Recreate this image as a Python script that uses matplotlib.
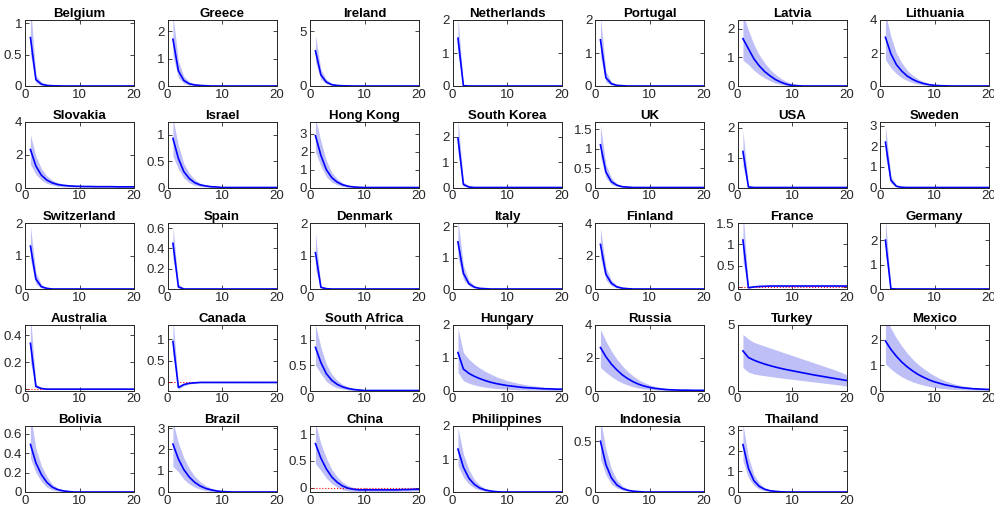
import numpy as np
import matplotlib
matplotlib.use("Agg")
import matplotlib.pyplot as plt

plt.rcParams['font.family'] = ['Liberation Sans', 'DejaVu Sans']

horizon = np.arange(1, 21)

countries = [
    "Belgium", "Greece", "Ireland", "Netherlands", "Portugal", "Latvia", "Lithuania",
    "Slovakia", "Israel", "Hong Kong", "South Korea", "UK", "USA", "Sweden",
    "Switzerland", "Spain", "Denmark", "Italy", "Finland", "France", "Germany",
    "Australia", "Canada", "South Africa", "Hungary", "Russia", "Turkey", "Mexico",
    "Bolivia", "Brazil", "China", "Philippines", "Indonesia", "Thailand",
]

# point estimate of the impulse response, horizons 1..20
irf_mean = {
    "Belgium": [0.77, 0.10, 0.03, 0.01, 0.004, 0.002, 0, 0, 0, 0, 0, 0, 0, 0, 0, 0, 0, 0, 0, 0],
    "Greece": [1.7, 0.55, 0.2, 0.08, 0.04, 0.02, 0.01, 0, 0, 0, 0, 0, 0, 0, 0, 0, 0, 0, 0, 0],
    "Ireland": [3.2, 1.0, 0.35, 0.12, 0.05, 0.02, 0.01, 0, 0, 0, 0, 0, 0, 0, 0, 0, 0, 0, 0, 0],
    "Netherlands": [1.45, 0.01, 0, 0, 0, 0, 0, 0, 0, 0, 0, 0, 0, 0, 0, 0, 0, 0, 0, 0],
    "Portugal": [1.4, 0.25, 0.07, 0.02, 0.01, 0, 0, 0, 0, 0, 0, 0, 0, 0, 0, 0, 0, 0, 0, 0],
    "Latvia": [1.65, 1.3, 0.95, 0.7, 0.5, 0.35, 0.22, 0.13, 0.06, 0.02, 0.01, 0, 0, 0, 0, 0, 0, 0, 0, 0],
    "Lithuania": [2.95, 1.95, 1.3, 0.9, 0.6, 0.4, 0.25, 0.15, 0.08, 0.04, 0.02, 0.01, 0, 0, 0, 0, 0, 0, 0, 0],
    "Slovakia": [2.3, 1.3, 0.75, 0.45, 0.28, 0.18, 0.13, 0.1, 0.08, 0.07, 0.06, 0.06, 0.05, 0.05, 0.05, 0.05, 0.04, 0.04, 0.04, 0.04],
    "Israel": [0.93, 0.55, 0.3, 0.17, 0.09, 0.05, 0.03, 0.015, 0.01, 0, 0, 0, 0, 0, 0, 0, 0, 0, 0, 0],
    "Hong Kong": [2.9, 1.8, 1.0, 0.55, 0.3, 0.15, 0.07, 0.03, 0.01, 0, 0, 0, 0, 0, 0, 0, 0, 0, 0, 0],
    "South Korea": [1.95, 0.12, 0.02, 0, 0, 0, 0, 0, 0, 0, 0, 0, 0, 0, 0, 0, 0, 0, 0, 0],
    "UK": [1.1, 0.4, 0.15, 0.06, 0.02, 0.01, 0, 0, 0, 0, 0, 0, 0, 0, 0, 0, 0, 0, 0, 0],
    "USA": [1.2, 0.02, 0, 0, 0, 0, 0, 0, 0, 0, 0, 0, 0, 0, 0, 0, 0, 0, 0, 0],
    "Sweden": [2.2, 0.35, 0.06, 0.01, 0, 0, 0, 0, 0, 0, 0, 0, 0, 0, 0, 0, 0, 0, 0, 0],
    "Switzerland": [1.3, 0.3, 0.07, 0.02, 0, 0, 0, 0, 0, 0, 0, 0, 0, 0, 0, 0, 0, 0, 0, 0],
    "Spain": [0.45, 0.02, 0, 0, 0, 0, 0, 0, 0, 0, 0, 0, 0, 0, 0, 0, 0, 0, 0, 0],
    "Denmark": [1.1, 0.05, 0.01, 0, 0, 0, 0, 0, 0, 0, 0, 0, 0, 0, 0, 0, 0, 0, 0, 0],
    "Italy": [1.5, 0.5, 0.17, 0.06, 0.02, 0.01, 0, 0, 0, 0, 0, 0, 0, 0, 0, 0, 0, 0, 0, 0],
    "Finland": [2.7, 0.9, 0.35, 0.13, 0.05, 0.02, 0, 0, 0, 0, 0, 0, 0, 0, 0, 0, 0, 0, 0, 0],
    "France": [1.1, -0.02, 0.0, 0.01, 0.015, 0.02, 0.02, 0.02, 0.02, 0.02, 0.02, 0.02, 0.02, 0.02, 0.02, 0.02, 0.02, 0.02, 0.02, 0.02],
    "Germany": [2.0, 0.01, 0, 0, 0, 0, 0, 0, 0, 0, 0, 0, 0, 0, 0, 0, 0, 0, 0, 0],
    "Australia": [0.34, 0.02, 0.005, 0, 0, 0, 0, 0, 0, 0, 0, 0, 0, 0, 0, 0, 0, 0, 0, 0],
    "Canada": [0.95, -0.13, -0.06, -0.03, -0.02, -0.01, -0.01, -0.01, -0.01, -0.01, -0.01, -0.01, -0.01, -0.01, -0.01, -0.01, -0.01, -0.01, -0.01, -0.01],
    "South Africa": [0.85, 0.55, 0.33, 0.2, 0.12, 0.07, 0.04, 0.02, 0.01, 0, 0, 0, 0, 0, 0, 0, 0, 0, 0, 0],
    "Hungary": [1.15, 0.65, 0.52, 0.43, 0.36, 0.3, 0.25, 0.21, 0.18, 0.15, 0.13, 0.11, 0.09, 0.08, 0.07, 0.06, 0.05, 0.05, 0.04, 0.04],
    "Russia": [2.6, 2.05, 1.6, 1.25, 0.95, 0.72, 0.53, 0.38, 0.27, 0.19, 0.13, 0.09, 0.06, 0.04, 0.03, 0.02, 0.02, 0.01, 0.01, 0.01],
    "Turkey": [3.0, 2.5, 2.3, 2.14, 2.0, 1.88, 1.77, 1.67, 1.58, 1.5, 1.42, 1.34, 1.26, 1.18, 1.11, 1.04, 0.97, 0.9, 0.83, 0.76],
    "Mexico": [1.95, 1.62, 1.35, 1.12, 0.93, 0.77, 0.63, 0.52, 0.42, 0.34, 0.28, 0.22, 0.18, 0.14, 0.11, 0.09, 0.07, 0.06, 0.05, 0.04],
    "Bolivia": [0.49, 0.3, 0.18, 0.1, 0.05, 0.025, 0.012, 0.005, 0, 0, 0, 0, 0, 0, 0, 0, 0, 0, 0, 0],
    "Brazil": [2.25, 1.55, 1.05, 0.7, 0.45, 0.28, 0.17, 0.1, 0.05, 0.02, 0.01, 0, 0, 0, 0, 0, 0, 0, 0, 0],
    "China": [0.82, 0.55, 0.35, 0.2, 0.1, 0.03, -0.01, -0.03, -0.04, -0.04, -0.04, -0.04, -0.04, -0.04, -0.04, -0.04, -0.035, -0.035, -0.03, -0.03],
    "Philippines": [1.3, 0.75, 0.42, 0.23, 0.12, 0.06, 0.03, 0.01, 0, 0, 0, 0, 0, 0, 0, 0, 0, 0, 0, 0],
    "Indonesia": [0.5, 0.27, 0.14, 0.07, 0.035, 0.017, 0.008, 0.004, 0, 0, 0, 0, 0, 0, 0, 0, 0, 0, 0, 0],
    "Thailand": [2.3, 1.15, 0.55, 0.27, 0.13, 0.06, 0.03, 0.01, 0, 0, 0, 0, 0, 0, 0, 0, 0, 0, 0, 0],
}

# lower confidence band
irf_lo = {
    "Belgium": [0.5, 0.05, 0.01, 0, 0, 0, 0, 0, 0, 0, 0, 0, 0, 0, 0, 0, 0, 0, 0, 0],
    "Greece": [1.1, 0.3, 0.1, 0.03, 0.01, 0, 0, 0, 0, 0, 0, 0, 0, 0, 0, 0, 0, 0, 0, 0],
    "Ireland": [2.2, 0.6, 0.2, 0.06, 0.02, 0, 0, 0, 0, 0, 0, 0, 0, 0, 0, 0, 0, 0, 0, 0],
    "Netherlands": [1.0, 0, 0, 0, 0, 0, 0, 0, 0, 0, 0, 0, 0, 0, 0, 0, 0, 0, 0, 0],
    "Portugal": [0.9, 0.12, 0.03, 0.01, 0, 0, 0, 0, 0, 0, 0, 0, 0, 0, 0, 0, 0, 0, 0, 0],
    "Latvia": [0.9, 0.75, 0.55, 0.4, 0.28, 0.18, 0.1, 0.05, 0.02, 0.01, 0, 0, 0, 0, 0, 0, 0, 0, 0, 0],
    "Lithuania": [1.6, 1.1, 0.75, 0.5, 0.33, 0.2, 0.12, 0.06, 0.03, 0.01, 0, 0, 0, 0, 0, 0, 0, 0, 0, 0],
    "Slovakia": [1.4, 0.8, 0.45, 0.25, 0.15, 0.08, 0.05, 0.03, 0.02, 0.02, 0.01, 0.01, 0.01, 0.01, 0.01, 0.01, 0.01, 0.01, 0.01, 0.01],
    "Israel": [0.6, 0.35, 0.18, 0.09, 0.04, 0.02, 0.01, 0, 0, 0, 0, 0, 0, 0, 0, 0, 0, 0, 0, 0],
    "Hong Kong": [2.0, 1.2, 0.6, 0.3, 0.15, 0.06, 0.02, 0, 0, 0, 0, 0, 0, 0, 0, 0, 0, 0, 0, 0],
    "South Korea": [1.4, 0.05, 0, 0, 0, 0, 0, 0, 0, 0, 0, 0, 0, 0, 0, 0, 0, 0, 0, 0],
    "UK": [0.8, 0.25, 0.08, 0.03, 0.01, 0, 0, 0, 0, 0, 0, 0, 0, 0, 0, 0, 0, 0, 0, 0],
    "USA": [0.7, 0, 0, 0, 0, 0, 0, 0, 0, 0, 0, 0, 0, 0, 0, 0, 0, 0, 0, 0],
    "Sweden": [1.5, 0.2, 0.03, 0, 0, 0, 0, 0, 0, 0, 0, 0, 0, 0, 0, 0, 0, 0, 0, 0],
    "Switzerland": [0.9, 0.15, 0.03, 0, 0, 0, 0, 0, 0, 0, 0, 0, 0, 0, 0, 0, 0, 0, 0, 0],
    "Spain": [0.3, 0.01, 0, 0, 0, 0, 0, 0, 0, 0, 0, 0, 0, 0, 0, 0, 0, 0, 0, 0],
    "Denmark": [0.6, 0.02, 0, 0, 0, 0, 0, 0, 0, 0, 0, 0, 0, 0, 0, 0, 0, 0, 0, 0],
    "Italy": [1.0, 0.3, 0.1, 0.03, 0.01, 0, 0, 0, 0, 0, 0, 0, 0, 0, 0, 0, 0, 0, 0, 0],
    "Finland": [1.9, 0.55, 0.2, 0.07, 0.02, 0, 0, 0, 0, 0, 0, 0, 0, 0, 0, 0, 0, 0, 0, 0],
    "France": [0.6, -0.04, -0.01, 0, 0.005, 0.01, 0.01, 0.01, 0.01, 0.01, 0.01, 0.01, 0.01, 0.01, 0.01, 0.01, 0.01, 0.01, 0.01, 0.01],
    "Germany": [1.4, 0, 0, 0, 0, 0, 0, 0, 0, 0, 0, 0, 0, 0, 0, 0, 0, 0, 0, 0],
    "Australia": [0.2, 0.01, 0, 0, 0, 0, 0, 0, 0, 0, 0, 0, 0, 0, 0, 0, 0, 0, 0, 0],
    "Canada": [0.65, -0.17, -0.09, -0.05, -0.03, -0.02, -0.02, -0.02, -0.02, -0.02, -0.02, -0.02, -0.02, -0.02, -0.02, -0.02, -0.02, -0.02, -0.02, -0.02],
    "South Africa": [0.5, 0.33, 0.18, 0.1, 0.05, 0.03, 0.01, 0, 0, 0, 0, 0, 0, 0, 0, 0, 0, 0, 0, 0],
    "Hungary": [0.55, 0.3, 0.22, 0.17, 0.13, 0.1, 0.08, 0.06, 0.05, 0.04, 0.03, 0.02, 0.02, 0.01, 0.01, 0.01, 0.01, 0, 0, 0],
    "Russia": [1.4, 1.1, 0.85, 0.63, 0.46, 0.33, 0.23, 0.15, 0.1, 0.06, 0.04, 0.02, 0.01, 0.01, 0, 0, 0, 0, 0, 0],
    "Turkey": [1.75, 1.4, 1.25, 1.18, 1.12, 1.06, 1.0, 0.95, 0.9, 0.85, 0.8, 0.75, 0.7, 0.65, 0.6, 0.55, 0.5, 0.45, 0.4, 0.33],
    "Mexico": [1.05, 0.85, 0.68, 0.54, 0.43, 0.34, 0.27, 0.21, 0.16, 0.12, 0.09, 0.07, 0.05, 0.04, 0.03, 0.02, 0.02, 0.01, 0.01, 0.01],
    "Bolivia": [0.35, 0.2, 0.11, 0.05, 0.02, 0.01, 0, 0, 0, 0, 0, 0, 0, 0, 0, 0, 0, 0, 0, 0],
    "Brazil": [1.2, 0.95, 0.6, 0.38, 0.23, 0.13, 0.07, 0.03, 0.01, 0, 0, 0, 0, 0, 0, 0, 0, 0, 0, 0],
    "China": [0.45, 0.32, 0.18, 0.08, 0.01, -0.04, -0.06, -0.07, -0.07, -0.07, -0.07, -0.07, -0.07, -0.07, -0.07, -0.07, -0.065, -0.065, -0.06, -0.06],
    "Philippines": [0.8, 0.45, 0.24, 0.12, 0.06, 0.02, 0.01, 0, 0, 0, 0, 0, 0, 0, 0, 0, 0, 0, 0, 0],
    "Indonesia": [0.33, 0.17, 0.08, 0.04, 0.02, 0.01, 0, 0, 0, 0, 0, 0, 0, 0, 0, 0, 0, 0, 0, 0],
    "Thailand": [1.5, 0.7, 0.32, 0.14, 0.06, 0.02, 0.01, 0, 0, 0, 0, 0, 0, 0, 0, 0, 0, 0, 0, 0],
}

# upper confidence band
irf_hi = {
    "Belgium": [1.3, 0.17, 0.06, 0.02, 0.01, 0, 0, 0, 0, 0, 0, 0, 0, 0, 0, 0, 0, 0, 0, 0],
    "Greece": [2.6, 0.9, 0.35, 0.15, 0.07, 0.03, 0.01, 0, 0, 0, 0, 0, 0, 0, 0, 0, 0, 0, 0, 0],
    "Ireland": [4.6, 1.5, 0.6, 0.22, 0.08, 0.03, 0.01, 0, 0, 0, 0, 0, 0, 0, 0, 0, 0, 0, 0, 0],
    "Netherlands": [2.1, 0.03, 0, 0, 0, 0, 0, 0, 0, 0, 0, 0, 0, 0, 0, 0, 0, 0, 0, 0],
    "Portugal": [2.1, 0.45, 0.13, 0.04, 0.01, 0, 0, 0, 0, 0, 0, 0, 0, 0, 0, 0, 0, 0, 0, 0],
    "Latvia": [2.5, 1.95, 1.45, 1.08, 0.8, 0.57, 0.4, 0.26, 0.16, 0.09, 0.05, 0.02, 0.01, 0, 0, 0, 0, 0, 0, 0],
    "Lithuania": [4.4, 3.0, 2.0, 1.4, 0.95, 0.65, 0.42, 0.26, 0.15, 0.08, 0.04, 0.02, 0.01, 0, 0, 0, 0, 0, 0, 0],
    "Slovakia": [3.2, 1.9, 1.15, 0.7, 0.45, 0.3, 0.22, 0.17, 0.14, 0.12, 0.1, 0.1, 0.09, 0.09, 0.09, 0.08, 0.08, 0.08, 0.08, 0.08],
    "Israel": [1.3, 0.8, 0.45, 0.27, 0.15, 0.08, 0.04, 0.02, 0.01, 0, 0, 0, 0, 0, 0, 0, 0, 0, 0, 0],
    "Hong Kong": [3.9, 2.6, 1.5, 0.85, 0.48, 0.26, 0.13, 0.06, 0.03, 0.01, 0, 0, 0, 0, 0, 0, 0, 0, 0, 0],
    "South Korea": [2.7, 0.22, 0.05, 0.01, 0, 0, 0, 0, 0, 0, 0, 0, 0, 0, 0, 0, 0, 0, 0, 0],
    "UK": [1.6, 0.6, 0.25, 0.1, 0.04, 0.02, 0.01, 0, 0, 0, 0, 0, 0, 0, 0, 0, 0, 0, 0, 0],
    "USA": [1.9, 0.05, 0.01, 0, 0, 0, 0, 0, 0, 0, 0, 0, 0, 0, 0, 0, 0, 0, 0, 0],
    "Sweden": [3.0, 0.55, 0.12, 0.02, 0, 0, 0, 0, 0, 0, 0, 0, 0, 0, 0, 0, 0, 0, 0, 0],
    "Switzerland": [1.9, 0.5, 0.13, 0.04, 0.01, 0, 0, 0, 0, 0, 0, 0, 0, 0, 0, 0, 0, 0, 0, 0],
    "Spain": [0.62, 0.05, 0.01, 0, 0, 0, 0, 0, 0, 0, 0, 0, 0, 0, 0, 0, 0, 0, 0, 0],
    "Denmark": [1.7, 0.1, 0.02, 0, 0, 0, 0, 0, 0, 0, 0, 0, 0, 0, 0, 0, 0, 0, 0, 0],
    "Italy": [2.2, 0.75, 0.28, 0.1, 0.04, 0.01, 0, 0, 0, 0, 0, 0, 0, 0, 0, 0, 0, 0, 0, 0],
    "Finland": [3.7, 1.3, 0.55, 0.22, 0.09, 0.03, 0.01, 0, 0, 0, 0, 0, 0, 0, 0, 0, 0, 0, 0, 0],
    "France": [1.8, 0.0, 0.015, 0.025, 0.03, 0.03, 0.03, 0.03, 0.03, 0.03, 0.03, 0.03, 0.03, 0.03, 0.03, 0.03, 0.03, 0.03, 0.03, 0.03],
    "Germany": [2.9, 0.03, 0.01, 0, 0, 0, 0, 0, 0, 0, 0, 0, 0, 0, 0, 0, 0, 0, 0, 0],
    "Australia": [0.55, 0.04, 0.01, 0, 0, 0, 0, 0, 0, 0, 0, 0, 0, 0, 0, 0, 0, 0, 0, 0],
    "Canada": [1.5, -0.08, -0.03, -0.01, 0, 0, 0, 0, 0, 0, 0, 0, 0, 0, 0, 0, 0, 0, 0, 0],
    "South Africa": [1.3, 0.85, 0.52, 0.32, 0.2, 0.12, 0.07, 0.04, 0.02, 0.01, 0, 0, 0, 0, 0, 0, 0, 0, 0, 0],
    "Hungary": [1.9, 1.15, 0.95, 0.8, 0.68, 0.58, 0.5, 0.42, 0.36, 0.3, 0.26, 0.22, 0.19, 0.16, 0.14, 0.12, 0.1, 0.09, 0.08, 0.07],
    "Russia": [3.7, 3.0, 2.4, 1.9, 1.5, 1.15, 0.88, 0.65, 0.48, 0.35, 0.25, 0.18, 0.13, 0.09, 0.06, 0.05, 0.04, 0.03, 0.02, 0.02],
    "Turkey": [4.25, 3.9, 3.65, 3.5, 3.36, 3.22, 3.08, 2.94, 2.8, 2.66, 2.52, 2.38, 2.24, 2.1, 1.96, 1.82, 1.68, 1.54, 1.38, 1.2],
    "Mexico": [2.9, 2.45, 2.07, 1.75, 1.47, 1.23, 1.03, 0.86, 0.71, 0.58, 0.47, 0.38, 0.3, 0.24, 0.19, 0.15, 0.12, 0.1, 0.08, 0.07],
    "Bolivia": [0.8, 0.45, 0.27, 0.16, 0.08, 0.04, 0.02, 0.01, 0, 0, 0, 0, 0, 0, 0, 0, 0, 0, 0, 0],
    "Brazil": [3.3, 2.3, 1.6, 1.1, 0.74, 0.48, 0.3, 0.18, 0.1, 0.05, 0.02, 0.01, 0, 0, 0, 0, 0, 0, 0, 0],
    "China": [1.2, 0.82, 0.55, 0.34, 0.2, 0.1, 0.04, 0.0, -0.01, -0.01, -0.01, -0.01, -0.01, -0.01, -0.01, -0.01, -0.01, -0.01, -0.005, -0.005],
    "Philippines": [1.95, 1.15, 0.68, 0.38, 0.21, 0.11, 0.05, 0.02, 0.01, 0, 0, 0, 0, 0, 0, 0, 0, 0, 0, 0],
    "Indonesia": [0.72, 0.42, 0.23, 0.12, 0.06, 0.03, 0.015, 0.007, 0, 0, 0, 0, 0, 0, 0, 0, 0, 0, 0, 0],
    "Thailand": [3.3, 1.7, 0.85, 0.43, 0.21, 0.1, 0.05, 0.02, 0.01, 0, 0, 0, 0, 0, 0, 0, 0, 0, 0, 0],
}

# y-axis limits and ticks for each panel
y_limits = {
    "Belgium": (0, 1.05), "Greece": (0, 2.4), "Ireland": (0, 6), "Netherlands": (0, 2),
    "Portugal": (0, 2), "Latvia": (0, 2.3), "Lithuania": (0, 4),
    "Slovakia": (0, 4), "Israel": (0, 1.25), "Hong Kong": (0, 3.7), "South Korea": (0, 2.6),
    "UK": (0, 1.7), "USA": (0, 2.2), "Sweden": (0, 3.2),
    "Switzerland": (0, 2), "Spain": (0, 0.65), "Denmark": (0, 2), "Italy": (0, 2.1),
    "Finland": (0, 4), "France": (-0.05, 1.5), "Germany": (0, 2.7),
    "Australia": (-0.01, 0.48), "Canada": (-0.2, 1.35), "South Africa": (0, 1.3),
    "Hungary": (0, 2), "Russia": (0, 4), "Turkey": (0, 5), "Mexico": (0, 2.6),
    "Bolivia": (0, 0.68), "Brazil": (0, 3.1), "China": (-0.08, 1.15), "Philippines": (0, 2),
    "Indonesia": (0, 0.65), "Thailand": (0, 3.2),
}

y_ticks = {
    "Belgium": [0, 0.5, 1], "Greece": [0, 1, 2], "Ireland": [0, 5], "Netherlands": [0, 1, 2],
    "Portugal": [0, 1, 2], "Latvia": [0, 1, 2], "Lithuania": [0, 2, 4],
    "Slovakia": [0, 2, 4], "Israel": [0, 0.5, 1], "Hong Kong": [0, 1, 2, 3], "South Korea": [0, 1, 2],
    "UK": [0, 0.5, 1, 1.5], "USA": [0, 1, 2], "Sweden": [0, 1, 2, 3],
    "Switzerland": [0, 1, 2], "Spain": [0, 0.2, 0.4, 0.6], "Denmark": [0, 1, 2], "Italy": [0, 1, 2],
    "Finland": [0, 2, 4], "France": [0, 0.5, 1, 1.5], "Germany": [0, 1, 2],
    "Australia": [0, 0.2, 0.4], "Canada": [0, 0.5, 1], "South Africa": [0, 0.5, 1],
    "Hungary": [0, 1, 2], "Russia": [0, 2, 4], "Turkey": [0, 5], "Mexico": [0, 1, 2],
    "Bolivia": [0, 0.2, 0.4, 0.6], "Brazil": [0, 1, 2, 3], "China": [0, 0.5, 1], "Philippines": [0, 1, 2],
    "Indonesia": [0, 0.5], "Thailand": [0, 1, 2, 3],
}

W, H = 995, 514
fig = plt.figure(figsize=(W / 100, H / 100), dpi=100)

n_cols = 7
ax_w, ax_h = 109, 66
axis_grey = '#262626'

for k, name in enumerate(countries):
    row, col = divmod(k, n_cols)
    left = 25 + 142.5 * col
    top = 20 + 101.5 * row
    ax = fig.add_axes([left / W, 1 - (top + ax_h) / H, ax_w / W, ax_h / H])

    lo = np.array(irf_lo[name])
    hi = np.array(irf_hi[name])
    mean = np.array(irf_mean[name])

    ax.fill_between(horizon, lo, hi, color='#bfbff7', linewidth=0, zorder=1)
    ax.axhline(0, color='red', linestyle=':', linewidth=0.8, zorder=2)
    ax.plot(horizon, mean, color='#0000ff', linewidth=1.2, zorder=3)

    ax.set_xlim(0, 20)
    ax.set_ylim(*y_limits[name])
    ax.set_xticks([0, 10, 20])
    ax.set_yticks(y_ticks[name])
    ax.set_yticklabels([f"{t:g}" for t in y_ticks[name]])
    ax.tick_params(direction='in', length=3, width=0.6, top=True, right=True,
                   labelsize=9.5, colors=axis_grey, pad=2)
    for sp in ax.spines.values():
        sp.set_color(axis_grey)
        sp.set_linewidth(0.7)
        sp.set_zorder(5)
    ax.set_title(name, fontsize=9.5, fontweight='bold', pad=2, color='black')

fig.savefig("out.png", dpi=100)
